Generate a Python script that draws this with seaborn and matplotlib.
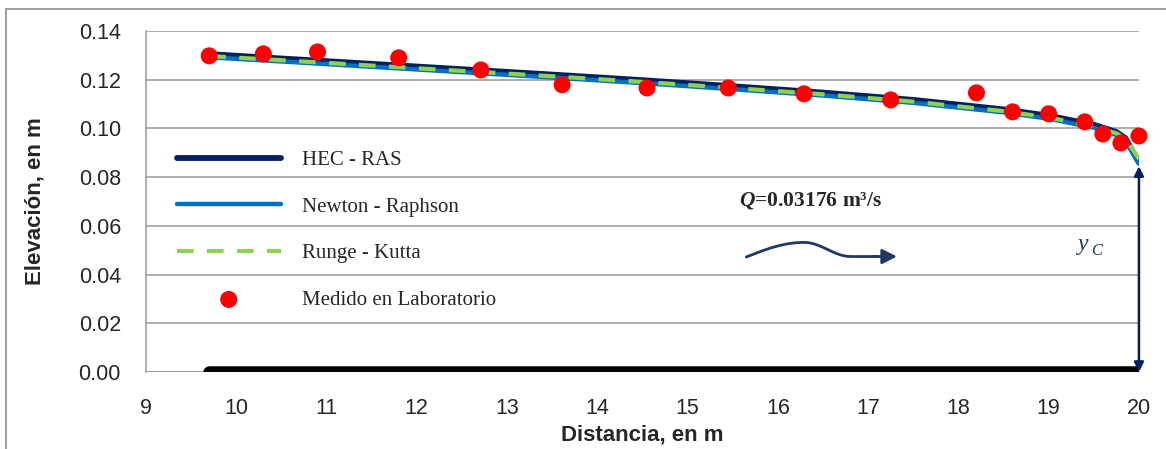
import numpy as np
import pandas as pd
import matplotlib
matplotlib.use("Agg")
import matplotlib.pyplot as plt
import seaborn as sns
from matplotlib.patches import Rectangle

# Perfil calculado (x en m, elevación en m)
x_calc = [9.7, 10.5, 11.5, 12.5, 13.5, 14.5, 15.5, 16.5, 17.5, 18.5, 19.0, 19.5, 19.75, 19.85, 20.0]
hec_ras = [0.1305, 0.1287, 0.1265, 0.1243, 0.1221, 0.1198, 0.1173, 0.1147, 0.1117, 0.1078, 0.1052, 0.1015, 0.0985, 0.0960, 0.0860]
newton = [0.1292, 0.1275, 0.1253, 0.1231, 0.1209, 0.1186, 0.1161, 0.1135, 0.1105, 0.1066, 0.1040, 0.1003, 0.0973, 0.0950, 0.0855]
runge = [0.1297, 0.1280, 0.1258, 0.1236, 0.1214, 0.1191, 0.1166, 0.1140, 0.1110, 0.1071, 0.1045, 0.1008, 0.0980, 0.0958, 0.0875]

# Medido en laboratorio
x_lab = [9.7, 10.3, 10.9, 11.8, 12.71, 13.61, 14.55, 15.45, 16.29, 17.25, 18.2, 18.6, 19.0, 19.4, 19.6, 19.8, 20.0]
y_lab = [0.1298, 0.1306, 0.1314, 0.1290, 0.1240, 0.1179, 0.1166, 0.1166, 0.1142, 0.1117, 0.1146, 0.1068, 0.1060, 0.1027, 0.0977, 0.0940, 0.0969]

# Fondo del canal
x_fondo = [9.7, 20.0]
y_fondo = [0.0, 0.0]

sns.set_style("white")
plt.rcParams["font.family"] = ["Liberation Sans", "DejaVu Sans"]
plt.rcParams["mathtext.fontset"] = "custom"
plt.rcParams["mathtext.it"] = "Liberation Serif:italic:bold"
plt.rcParams["mathtext.rm"] = "Liberation Serif:bold"
plt.rcParams["mathtext.bf"] = "Liberation Serif:bold"

fig = plt.figure(figsize=(11.66, 4.49), dpi=100)
ax = fig.add_axes([0.1252, 0.1715, 0.8516, 0.7595])

# marco de la figura
fig.patches.append(Rectangle((0.005, -0.1), 1.2, 1.08, transform=fig.transFigure,
                             fill=False, edgecolor="#8c8c8c", lw=1.2, zorder=0))

grid_c = "#a0a0a0"
ax.set_xlim(9, 20)
ax.set_ylim(0, 0.14)
ax.set_xticks(range(9, 21))
ax.set_yticks(np.arange(0, 0.141, 0.02))
ax.set_yticklabels([f"{v:.2f}" for v in np.arange(0, 0.141, 0.02)])
ax.yaxis.grid(True, color=grid_c, lw=1.2)
ax.set_axisbelow(True)
for s in ["top", "right", "bottom"]:
    ax.spines[s].set_visible(False)
ax.spines["left"].set_color(grid_c)
ax.spines["left"].set_linewidth(1.2)
ax.tick_params(axis="both", length=6, color=grid_c, width=1, labelsize=15.5, direction="out")
ax.tick_params(axis="y", pad=12)
ax.tick_params(axis="x", pad=13)
ax.axhline(0, color=grid_c, lw=1.2, zorder=0)

# fondo
sns.lineplot(x=x_fondo, y=y_fondo, ax=ax, color="black", lw=9, solid_capstyle="round", zorder=3)

df = pd.DataFrame({"x": x_calc, "hec": hec_ras, "newton": newton, "rk": runge})
sns.lineplot(data=df, x="x", y="hec", ax=ax, color="#002060", lw=4.2, label="HEC - RAS", zorder=4)
sns.lineplot(data=df, x="x", y="newton", ax=ax, color="#0070c0", lw=3.2, label="Newton - Raphson", zorder=5)
sns.lineplot(data=df, x="x", y="rk", ax=ax, color="#92d050", lw=3, label="Runge - Kutta", zorder=6)
ax.lines[-1].set_linestyle((0, (4, 3.2)))
sns.scatterplot(x=x_lab, y=y_lab, ax=ax, color="#ff0000", s=150, edgecolor="none",
                label="Medido en Laboratorio", zorder=7, clip_on=False)

ax.set_xlabel("Distancia, en m", fontsize=16, fontweight="bold", labelpad=4)
ax.set_ylabel("Elevación, en m", fontsize=16, fontweight="bold", labelpad=24)

leg = ax.legend(loc="upper left", bbox_to_anchor=(0.012, 0.705), frameon=False,
                prop={"family": "Liberation Serif", "size": 15},
                handlelength=5.0, handletextpad=1.0, labelspacing=1.3, borderpad=0.4)

# textos
navy = "#1f3864"
ax.text(15.57, 0.0705, r"$Q$=0.03176 m³/s", fontsize=15.5, fontweight="bold",
        family="Liberation Serif", va="center", ha="left")
ax.text(19.33, 0.0525, "y", fontsize=17, color=navy, style="italic",
        family="Liberation Serif", va="center", ha="left")
ax.text(19.47, 0.0495, "C", fontsize=12, color=navy, style="italic",
        family="Liberation Serif", va="center", ha="left")

# flecha ondulada
x1 = np.linspace(15.65, 16.29, 20)
y1 = 0.0472 + 0.0060 * np.sin(np.pi / 2 * (x1 - 15.65) / 0.64)
x2 = np.linspace(16.29, 16.81, 20)
y2 = 0.0474 + 0.0058 * (1 + np.cos(np.pi * (x2 - 16.29) / 0.52)) / 2
wx = np.concatenate([x1, x2, [17.1]])
wy = np.concatenate([y1, y2, [0.0474]])
ax.plot(wx, wy, color=navy, lw=2)
ax.annotate("", xy=(17.32, 0.0474), xytext=(17.05, 0.0474),
            arrowprops=dict(arrowstyle="-|>", color=navy, lw=2, mutation_scale=22,
                            shrinkA=0, shrinkB=0))

# flecha y_C
ax.annotate("", xy=(20, 0.0), xytext=(20, 0.0845),
            arrowprops=dict(arrowstyle="<|-|>", color="#002060", lw=1.8, mutation_scale=14,
                            shrinkA=0, shrinkB=0), annotation_clip=False)

fig.savefig("out.png", dpi=100)
